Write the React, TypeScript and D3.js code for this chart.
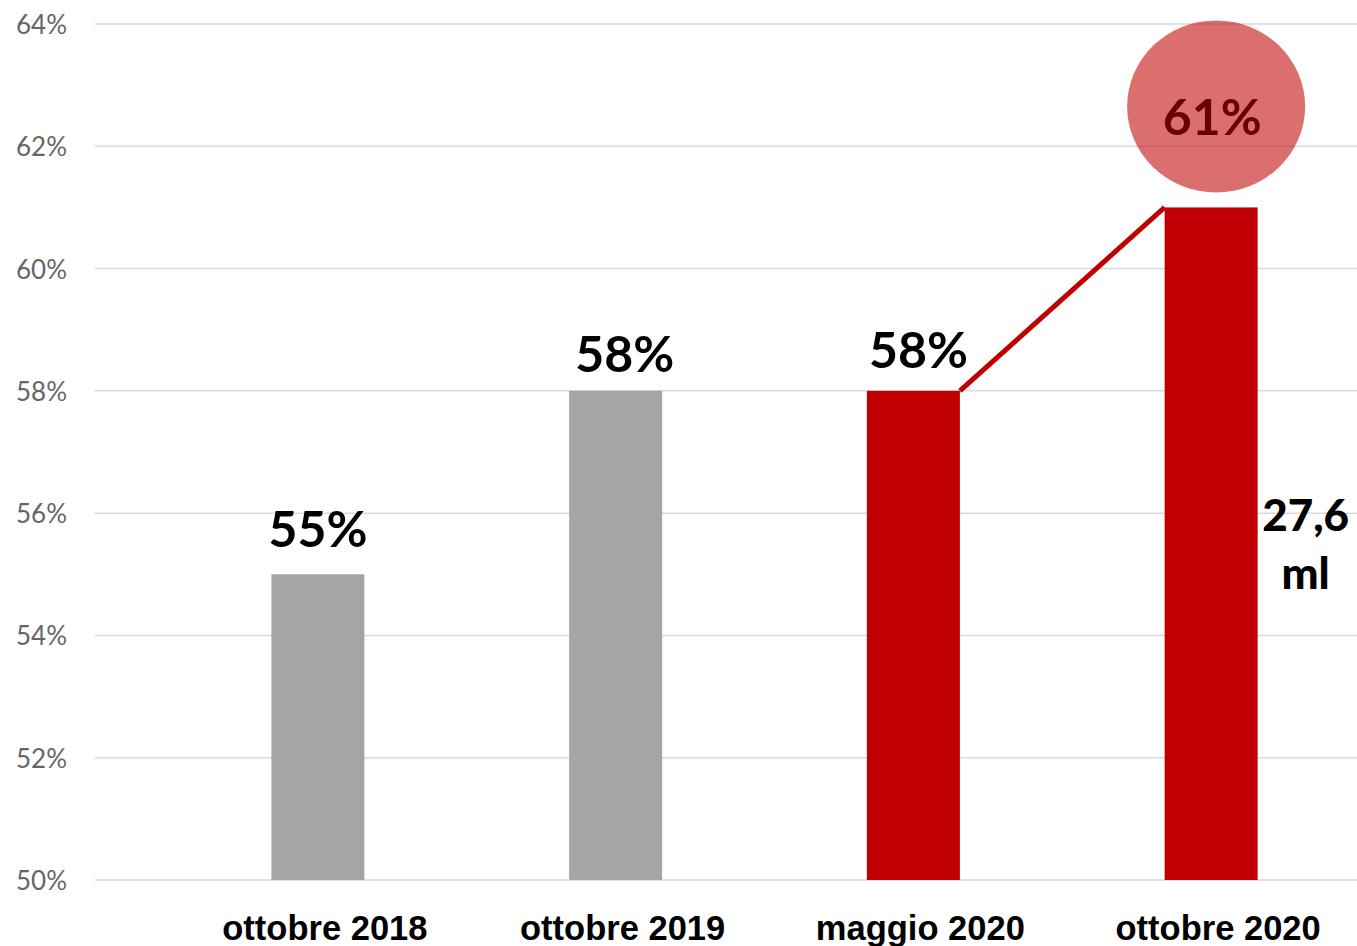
import React from 'react';
import * as d3 from 'd3';

const categories = ['ottobre 2018', 'ottobre 2019', 'maggio 2020', 'ottobre 2020'];
const values = [0.55, 0.58, 0.58, 0.61];
const barColors = ['#a5a5a5', '#a5a5a5', '#c00000', '#c00000'];
const valueLabels = ['55%', '58%', '58%', '61%'];
const yTicks = [0.5, 0.52, 0.54, 0.56, 0.58, 0.6, 0.62, 0.64];
const sideNote = ['27,6', 'ml'];

const W = 1357;
const H = 946;

export default function App() {
    const x = d3.scaleBand<string>()
        .domain(categories)
        .range([169, 1360])
        .paddingInner(0.6876)
        .paddingOuter(0.3438);

    const y = d3.scaleLinear()
        .domain([0.5, 0.64])
        .range([880, 24]);

    const fmt = d3.format('.0%');
    const bw = x.bandwidth();

    // connector from top-right of the 3rd bar to top-left of the 4th
    const link = d3.line()([
        [(x(categories[2]) as number) + bw, y(values[2])],
        [x(categories[3]) as number, y(values[3])]
    ]);

    const last = x(categories[3]) as number;

    return (
        <svg width={W} height={H} style={{ position: 'absolute', left: 0, top: 0, background: '#fff' }}>
            <g>
                {yTicks.map(t => (
                    <g key={t}>
                        <line x1={95} x2={1357} y1={y(t)} y2={y(t)} stroke="#d9d9d9" strokeWidth={1.5} />
                        <text x={67} y={y(t)} textAnchor="end" dominantBaseline="central"
                            fontFamily="Lato, 'Open Sans', sans-serif" fontSize={26} fill="#666">
                            {fmt(t)}
                        </text>
                    </g>
                ))}
            </g>
            <g>
                {categories.map((c, i) => (
                    <rect key={c} x={x(c)} y={y(values[i])} width={bw}
                        height={y(0.5) - y(values[i])} fill={barColors[i]} />
                ))}
            </g>
            <path d={link || ''} stroke="#c00000" strokeWidth={5} fill="none" />
            <g fontFamily="Lato, 'Open Sans', sans-serif" fontWeight="bold" fontSize={50} fill="#000">
                <text x={(x(categories[0]) as number) + bw / 2} y={y(values[0]) - 27} textAnchor="middle">{valueLabels[0]}</text>
                <text x={(x(categories[1]) as number) + bw / 2 + 9} y={y(values[1]) - 19} textAnchor="middle">{valueLabels[1]}</text>
                <text x={(x(categories[2]) as number) + bw / 2 + 5} y={y(values[2]) - 23} textAnchor="middle">{valueLabels[2]}</text>
            </g>
            <ellipse cx={last + bw / 2 + 5} cy={y(values[3]) - 101} rx={89} ry={86}
                fill="#c00000" fillOpacity={0.57} />
            <text x={last + bw / 2 + 1} y={y(values[3]) - 72} textAnchor="middle"
                fontFamily="Lato, 'Open Sans', sans-serif" fontWeight="bold" fontSize={50} fill="#6b0000">
                {valueLabels[3]}
            </text>
            <g fontFamily="Lato, 'Open Sans', sans-serif" fontWeight="900" fontSize={44} fill="#000" textAnchor="middle">
                <text x={last + bw + 48} y={531}>{sideNote[0]}</text>
                <text x={last + bw + 48} y={589}>{sideNote[1]}</text>
            </g>
            <g fontFamily="'Liberation Sans', Arial, sans-serif" fontWeight="bold" fontSize={34.5} fill="#000">
                {categories.map(c => (
                    <text key={c} x={(x(c) as number) + bw / 2 + 7} y={940} textAnchor="middle">{c}</text>
                ))}
            </g>
        </svg>
    );
}
